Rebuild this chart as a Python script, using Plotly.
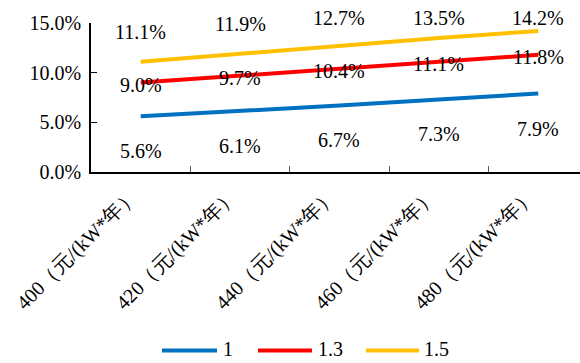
import plotly.graph_objects as go

# Capacity price scenarios (x-axis) and IRR under three multipliers
categories = ["400（元/(kW*年）", "420（元/(kW*年）", "440（元/(kW*年）",
              "460（元/(kW*年）", "480（元/(kW*年）"]
series_names = ["1", "1.3", "1.5"]
irr_1 = [5.6, 6.1, 6.7, 7.3, 7.9]
irr_13 = [9.0, 9.7, 10.4, 11.1, 11.8]
irr_15 = [11.1, 11.9, 12.7, 13.5, 14.2]
colors = ["#0070C0", "#FF0000", "#FFC000"]
y_ticks = [0, 5, 10, 15]

SERIF = "Liberation Serif"
FS = 20

W, H = 580, 363
ML, MR, MT, MB = 91, 0, 23, 191
PW, PH = W - ML - MR, H - MT - MB
Y_MAX = 15

fig = go.Figure()
all_series = [irr_1, irr_13, irr_15]
for name, vals, col in zip(series_names, all_series, colors):
    fig.add_trace(go.Scatter(
        x=categories, y=vals, mode="lines", name=name,
        line=dict(color=col, width=4), showlegend=False,
    ))

label_font = dict(family=SERIF, size=FS, color="black")
annotations = []
# value labels: blue below, red centred, yellow above (kept inside the top)
for i, c in enumerate(categories):
    annotations.append(dict(x=c, y=irr_1[i], xref="x", yref="y",
                            text=f"{irr_1[i]:.1f}%", showarrow=False,
                            yshift=-35, font=label_font))
    annotations.append(dict(x=c, y=irr_13[i], xref="x", yref="y",
                            text=f"{irr_13[i]:.1f}%", showarrow=False,
                            yshift=-2, font=label_font))
    up = min(30, (Y_MAX - irr_15[i]) * PH / Y_MAX + 5)
    annotations.append(dict(x=c, y=irr_15[i], xref="x", yref="y",
                            text=f"{irr_15[i]:.1f}%", showarrow=False,
                            yshift=up, font=label_font))

# legend drawn below the category labels
shapes = []
legend_y_px = 350.5
legend_items = [(162, 217, 221), (258, 312, 316), (366, 419, 422)]
def px_x(p):
    return (p - ML) / PW
def px_y(p):
    return (H - MB - p) / PH
for (x0, x1, xt), name, col in zip(legend_items, series_names, colors):
    shapes.append(dict(type="line", xref="paper", yref="paper",
                       x0=px_x(x0), x1=px_x(x1), y0=px_y(legend_y_px), y1=px_y(legend_y_px),
                       line=dict(color=col, width=4)))
    annotations.append(dict(x=px_x(xt), y=px_y(legend_y_px - 1), xref="paper", yref="paper",
                            text=name, showarrow=False, xanchor="left", yanchor="middle",
                            font=label_font))

fig.update_layout(
    width=W, height=H,
    margin=dict(l=ML, r=MR, t=MT, b=MB),
    paper_bgcolor="white", plot_bgcolor="white",
    font=dict(family=SERIF, size=FS, color="black"),
    annotations=annotations, shapes=shapes,
    showlegend=False,
    xaxis=dict(
        type="category", range=[-0.5, 4.42],
        tickson="boundaries", ticks="inside", ticklen=6, tickcolor="#595959",
        showline=True, linecolor="black", linewidth=1.5,
        showgrid=False, tickangle=-45,
        tickfont=dict(family=SERIF, size=FS, color="black"),
        ticklabelstandoff=2, ticklabelshift=-9,
    ),
    yaxis=dict(
        range=[0, Y_MAX], tickvals=y_ticks,
        ticktext=[f"{v:.1f}%" for v in y_ticks],
        ticks="inside", ticklen=6, tickcolor="black",
        showline=True, linecolor="black", linewidth=1.5,
        showgrid=False, zeroline=False,
        tickfont=dict(family=SERIF, size=FS, color="black"),
        ticklabelstandoff=4,
    ),
)

fig.write_html("out.html")
